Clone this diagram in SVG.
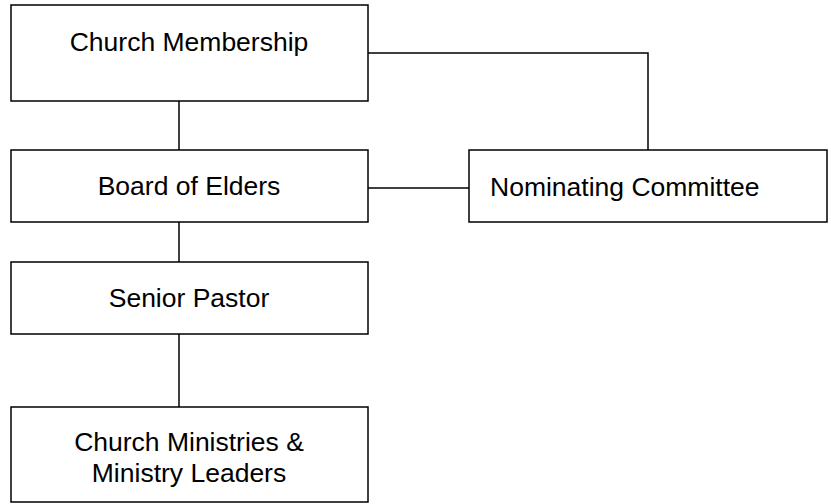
<svg xmlns="http://www.w3.org/2000/svg" width="831" height="504" viewBox="0 0 831 504">
<style>
rect{fill:#fff;stroke:#000;stroke-width:1.5}
.c{fill:none;stroke:#000;stroke-width:1.5}
text{font-family:"Liberation Sans",Arial,sans-serif;font-size:26.5px;fill:#000}
.m{text-anchor:middle}
</style>
<rect x="0" y="0" width="831" height="504" style="stroke:none"/>
<g id="connectors">
<path class="c" d="M179 101V150"/>
<path class="c" d="M179 222V262"/>
<path class="c" d="M179 334V407"/>
<path class="c" d="M368 53H648V150"/>
<path class="c" d="M368 188H469"/>
</g>
<g id="membership"><rect x="11" y="5" width="357" height="96"/><text class="m" x="189" y="51">Church Membership</text></g>
<g id="elders"><rect x="11" y="150" width="357" height="72"/><text class="m" x="189" y="195">Board of Elders</text></g>
<g id="pastor"><rect x="11" y="262" width="357" height="72"/><text class="m" x="189" y="307">Senior Pastor</text></g>
<g id="ministries"><rect x="11" y="407" width="357" height="95"/><text class="m" x="189" y="451">Church Ministries &amp;</text><text class="m" x="189" y="482">Ministry Leaders</text></g>
<g id="nominating"><rect x="469" y="150" width="358" height="72"/><text x="490" y="196">Nominating Committee</text></g>
</svg>
